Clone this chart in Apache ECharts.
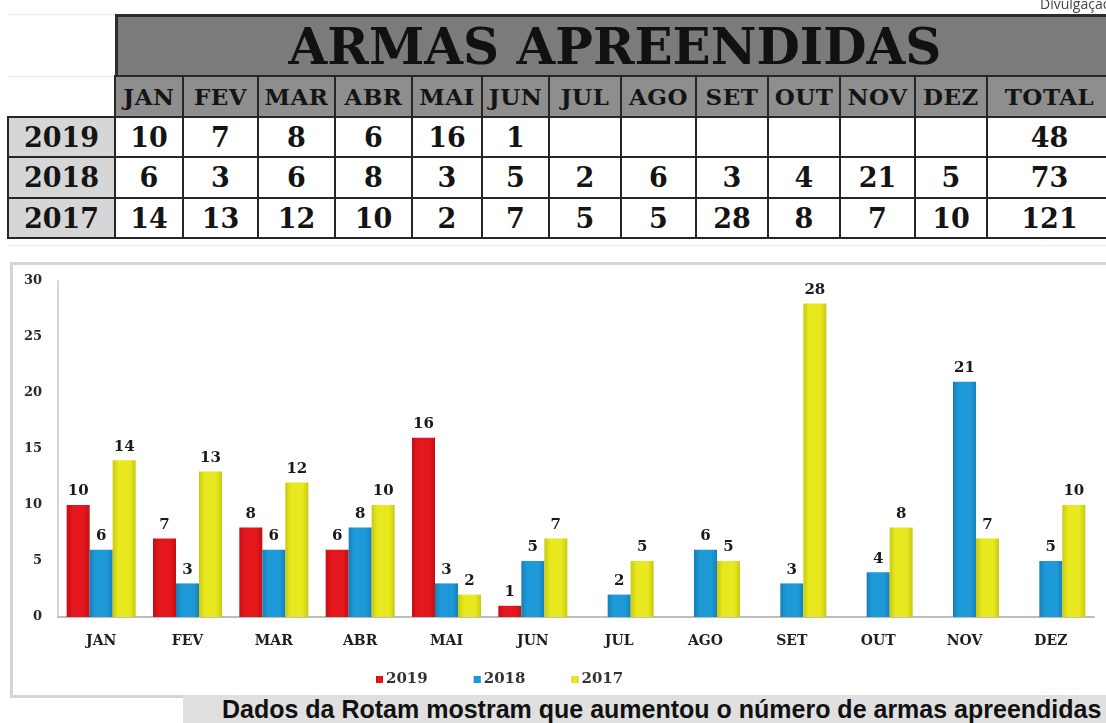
<!DOCTYPE html>
<html>
<head>
<meta charset="utf-8">
<script src="https://cdn.jsdelivr.net/npm/echarts@6/dist/echarts.min.js"></script>
<style>
  html, body { margin:0; padding:0; background:#fff; }
  body { width:1106px; height:723px; overflow:hidden; position:relative; font-family:"DejaVu Serif", serif; }
  #chart { position:absolute; left:0; top:0; width:1106px; height:723px; z-index:2; }
  #box { position:absolute; left:10px; top:262px; width:1096px; height:436px; border:3px solid #d4d4d4; border-right:none; box-sizing:border-box; z-index:1; }
  .cell { position:absolute; box-sizing:border-box; border:2px solid #262626; display:flex; align-items:center; justify-content:center; font-weight:bold; color:#141414; z-index:3; white-space:nowrap; overflow:hidden; }
  #title { position:absolute; left:115px; top:14px; width:1000px; height:64px; background:#7b7b7b; border:3px solid #2d2d2d; box-sizing:border-box; z-index:3; font-weight:bold; font-size:50px; color:#111; display:flex; align-items:center; justify-content:center; }
  #title span { position:relative; left:0px; }
  #credit { position:absolute; left:1040px; top:-6px; font-family:"Open Sans", sans-serif; font-size:14px; color:#444; z-index:3; white-space:nowrap; }
  #caption { position:absolute; left:183px; top:695px; width:923px; height:28px; background:#e0e0e0; z-index:4; font-family:"Liberation Sans", Arial, sans-serif; font-weight:bold; font-size:25px; color:#111; white-space:nowrap; line-height:29px; padding-left:39px; box-sizing:border-box; overflow:hidden; }
  .faint { position:absolute; background:#ececec; z-index:1; }
</style>
</head>
<body>
<div id="credit">Divulgação</div>
<div id="box"></div>
<div id="chart"></div>
<div id="title"><span>ARMAS APREENDIDAS</span></div>
<div id="caption">Dados da Rotam mostram que aumentou o número de armas apreendidas</div>
<script>
// ---- data ----
const months = ['JAN','FEV','MAR','ABR','MAI','JUN','JUL','AGO','SET','OUT','NOV','DEZ'];
const years = ['2019','2018','2017'];
const v2019 = [10, 7, 8, 6, 16, 1, null, null, null, null, null, null];
const v2018 = [6, 3, 6, 8, 3, 5, 2, 6, 3, 4, 21, 5];
const v2017 = [14, 13, 12, 10, 2, 7, 5, 5, 28, 8, 7, 10];
const totals = [48, 73, 121];
const totalLabel = 'TOTAL';
const yMin = 0, yMax = 30, yStep = 5;

// ---- table layout (positions only) ----
const colEdges = [8, 115, 183, 258, 335, 412, 482, 549, 621, 696, 768, 840, 915, 987, 1112];
const rowEdges = [76, 117, 157, 198, 238];
const seriesVals = [v2019, v2018, v2017];

function addCell(x0, x1, y0, y1, text, bg, size, ls) {
  const d = document.createElement('div');
  d.className = 'cell';
  d.style.left = (x0 - 1) + 'px';
  d.style.top = (y0 - 1) + 'px';
  d.style.width = (x1 - x0 + 2) + 'px';
  d.style.height = (y1 - y0 + 2) + 'px';
  d.style.background = bg;
  d.style.fontSize = size + 'px';
  if (ls) d.style.letterSpacing = ls + 'px';
  d.textContent = text == null ? '' : String(text);
  document.body.appendChild(d);
}
// header row
const headers = months.concat([totalLabel]);
headers.forEach((h, i) => addCell(colEdges[i + 1], colEdges[i + 2], rowEdges[0], rowEdges[1], h, '#8e8e8e', 23, 0.5));
// data rows
years.forEach((yr, r) => {
  const y0 = rowEdges[r + 1], y1 = rowEdges[r + 2];
  addCell(colEdges[0], colEdges[1], y0, y1, yr, '#d6d6d6', 27, 0);
  seriesVals[r].forEach((v, i) => addCell(colEdges[i + 1], colEdges[i + 2], y0, y1, v, '#ffffff', 27, 0));
  addCell(colEdges[13], colEdges[14], y0, y1, totals[r], '#ffffff', 27, 0);
});
// faint spreadsheet gridlines
[[8, 14, 107, 1], [8, 76, 107, 1], [8, 245, 1098, 1]].forEach(([x, y, w, h]) => {
  const f = document.createElement('div'); f.className = 'faint';
  f.style.left = x + 'px'; f.style.top = y + 'px'; f.style.width = w + 'px'; f.style.height = h + 'px';
  document.body.appendChild(f);
});

// ---- chart ----
function grad(edge, mid) {
  return new echarts.graphic.LinearGradient(0, 0, 1, 0, [
    { offset: 0, color: edge }, { offset: 0.25, color: mid },
    { offset: 0.75, color: mid }, { offset: 1, color: edge }
  ]);
}
const labelStyle = {
  show: true, position: 'top', distance: 6,
  fontFamily: 'DejaVu Serif', fontWeight: 'bold', fontSize: 15, color: '#1a1a1a'
};
const chart = echarts.init(document.getElementById('chart'), null, { renderer: 'canvas' });
chart.setOption({
  backgroundColor: 'transparent',
  animation: false,
  grid: { left: 58, right: 12, top: 281, bottom: 106, containLabel: false },
  legend: {
    left: 371, top: 667, itemWidth: 7, itemHeight: 7, itemGap: 46, icon: 'rect',
    textStyle: { fontFamily: 'DejaVu Serif', fontWeight: 'bold', fontSize: 15, color: '#333', padding: [0, 0, 0, -2] },
    data: years
  },
  xAxis: {
    type: 'category', data: months,
    axisLine: { lineStyle: { color: '#bdbdbd', width: 2 } },
    axisTick: { show: false },
    axisLabel: { margin: 17, fontFamily: 'DejaVu Serif', fontWeight: 'bold', fontSize: 14, color: '#1e1e1e' }
  },
  yAxis: {
    type: 'value', min: yMin, max: yMax, interval: yStep,
    axisLine: { show: true, lineStyle: { color: '#d4d4d4', width: 2 } },
    axisTick: { show: false },
    splitLine: { show: false },
    axisLabel: { margin: 16, fontFamily: 'DejaVu Serif', fontWeight: 'bold', fontSize: 13, color: '#2a2a2a' }
  },
  series: [
    { name: years[0], type: 'bar', data: v2019, barWidth: 23, barGap: '0%',
      itemStyle: { color: grad('#c40f14', '#e3171c') }, label: labelStyle },
    { name: years[1], type: 'bar', data: v2018, barWidth: 23, barGap: '0%',
      itemStyle: { color: grad('#1680b8', '#1e9ad8') }, label: labelStyle },
    { name: years[2], type: 'bar', data: v2017, barWidth: 23, barGap: '0%',
      itemStyle: { color: grad('#c9c912', '#e8e81e') }, label: labelStyle }
  ]
});
</script>
</body>
</html>
